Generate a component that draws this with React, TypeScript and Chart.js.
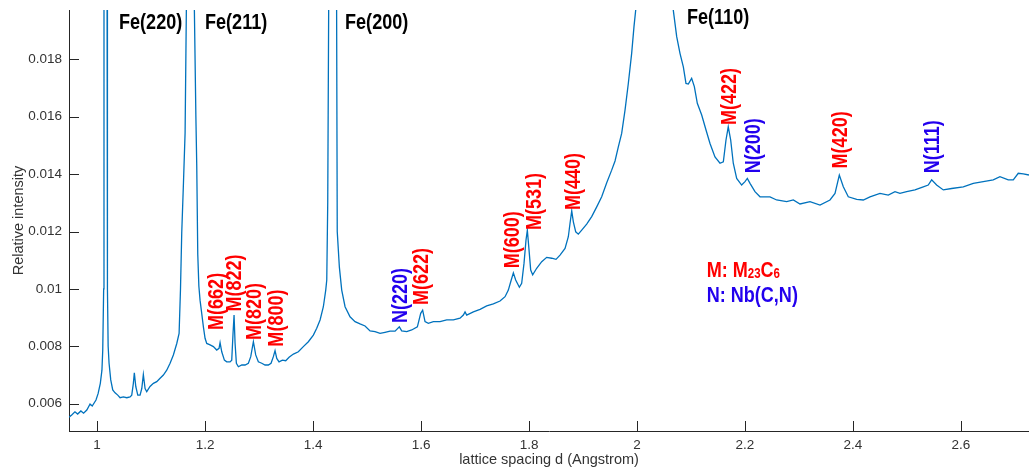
import { useEffect, useRef } from 'react';
import { Chart, registerables } from 'chart.js';

Chart.register(...registerables);

// Diffraction profile: lattice spacing d (Å) and relative intensity
const D_SPACING = [
  0.948, 0.953, 0.959, 0.964, 0.970, 0.975, 0.981, 0.987, 0.991, 0.998,
  1.002, 1.006, 1.009, 1.0105, 1.0122, 1.0128, 1.0157, 1.0185, 1.0192, 1.0205,
  1.0222, 1.0253, 1.029, 1.0333, 1.0383, 1.0426, 1.0487, 1.055, 1.0611,
  1.0642, 1.0672, 1.069, 1.0717, 1.0754, 1.0796, 1.0828, 1.0857, 1.0889, 1.092,
  1.0981, 1.1043, 1.1105, 1.1167, 1.1228, 1.129, 1.1352, 1.1413, 1.1476, 1.1519,
  1.1545, 1.1568, 1.1600, 1.1630, 1.1655, 1.1730, 1.1800, 1.1830, 1.1846, 1.1865,
  1.1885, 1.1907, 1.1938, 1.1969, 1.2, 1.2031, 1.2093, 1.2154, 1.2216, 1.2259,
  1.2278, 1.2309, 1.2358, 1.2401, 1.2463, 1.2494, 1.2518, 1.2537, 1.2556, 1.258,
  1.2617, 1.268, 1.2741, 1.2802, 1.2846, 1.2895, 1.2938, 1.2987, 1.305, 1.3111,
  1.3172, 1.3222, 1.3265, 1.3296, 1.3328, 1.337, 1.3432, 1.3494, 1.3556, 1.3636,
  1.3728, 1.382, 1.3913, 1.4006, 1.4068, 1.413, 1.4191, 1.4235, 1.4254, 1.4272,
  1.4290, 1.4360, 1.4436, 1.4448, 1.4487, 1.4531, 1.4593, 1.4685, 1.4778, 1.487,
  1.4963, 1.5056, 1.5148, 1.5241, 1.5333, 1.5426, 1.5519, 1.5598, 1.5642, 1.5735,
  1.5827, 1.5932, 1.5994, 1.603, 1.6074, 1.6135, 1.6228, 1.6352, 1.6476, 1.6599,
  1.6722, 1.6784, 1.6815, 1.6846, 1.6969, 1.7093, 1.7216, 1.7339, 1.7463, 1.7556,
  1.7617, 1.7661, 1.771, 1.7753, 1.7821, 1.7864, 1.7907, 1.7944, 1.7969, 1.8,
  1.8031, 1.8068, 1.8142, 1.8235, 1.8327, 1.842, 1.85, 1.8574, 1.8667, 1.8728,
  1.8759, 1.8791, 1.8821, 1.8865, 1.8913, 1.8976, 1.9068, 1.9161, 1.9254, 1.9346,
  1.9439, 1.9531, 1.9593, 1.9654, 1.9716, 1.9778, 1.9839, 1.9901, 1.9944, 1.9975,
  2.005, 2.015, 2.030, 2.045, 2.058, 2.0673, 2.0735, 2.0796, 2.0858, 2.0907,
  2.095, 2.1012, 2.1062, 2.1117, 2.1198, 2.1278, 2.1352, 2.1444, 2.1537, 2.1599,
  2.1648, 2.169, 2.1735, 2.1783, 2.1846, 2.1938, 2.2, 2.2043, 2.2093, 2.2185,
  2.2278, 2.2339, 2.2463, 2.2586, 2.2772, 2.2895, 2.3019, 2.3204, 2.3389, 2.3574,
  2.3667, 2.3747, 2.3821, 2.3913, 2.4069, 2.4191, 2.4315, 2.45, 2.4654, 2.4778,
  2.487, 2.4994, 2.5148, 2.5302, 2.5394, 2.5457, 2.5549, 2.5673, 2.5827, 2.6043,
  2.6228, 2.6413, 2.6598, 2.6722, 2.6876, 2.6969, 2.7061, 2.7154, 2.7259,
];

const INTENSITY = [
  0.00553, 0.00561, 0.00572, 0.00564, 0.00575, 0.00567, 0.00578, 0.00599, 0.00592, 0.00613,
  0.00636, 0.00671, 0.00717, 0.00787, 0.0100, 0.0200, 0.0500, 0.0200, 0.0100, 0.0080,
  0.00741, 0.00683, 0.00648, 0.00638, 0.0063, 0.00621, 0.00624, 0.00621, 0.00624,
  0.0063, 0.00671, 0.00708, 0.0066, 0.0063, 0.0063, 0.00653, 0.00702, 0.00653, 0.00642,
  0.0066, 0.00671, 0.00677, 0.00689, 0.007, 0.00717, 0.00741, 0.0077, 0.0081, 0.00845,
  0.0100, 0.01195, 0.0137, 0.01543, 0.0200, 0.0600, 0.0200, 0.0160, 0.0143, 0.0112,
  0.0101, 0.00961, 0.00915, 0.00868, 0.00828, 0.0081, 0.00805, 0.00799, 0.00787, 0.00793,
  0.00813, 0.00781, 0.00752, 0.00746, 0.00746, 0.00752, 0.00845, 0.00909, 0.0081, 0.00741,
  0.00729, 0.00735, 0.00735, 0.00741, 0.00764, 0.00816, 0.0077, 0.00746, 0.00741, 0.00735,
  0.00735, 0.00741, 0.00764, 0.00785, 0.00758, 0.00746, 0.00752, 0.0075, 0.00762, 0.00773,
  0.00781, 0.00799, 0.00816, 0.00839, 0.00863, 0.00892, 0.00938, 0.00996, 0.01031, 0.0130,
  0.0200, 0.0600, 0.0200, 0.0120, 0.01077, 0.00996, 0.00938, 0.00903, 0.00886, 0.00878,
  0.00871, 0.00854, 0.00851, 0.00845, 0.00849, 0.00853, 0.00853, 0.00868, 0.00854, 0.00851,
  0.00857, 0.00868, 0.00915, 0.00926, 0.00886, 0.0088, 0.00886, 0.00886, 0.00892, 0.00892,
  0.00898, 0.00909, 0.0092, 0.00909, 0.0092, 0.00929, 0.00941, 0.00948, 0.00958, 0.00973,
  0.00996, 0.01025, 0.01056, 0.01031, 0.01006, 0.0102, 0.01089, 0.0117, 0.01205, 0.01136,
  0.01066, 0.01049, 0.01072, 0.01095, 0.0111, 0.01107, 0.01103, 0.01118, 0.01141, 0.01182,
  0.01228, 0.01272, 0.01234, 0.01199, 0.01191, 0.01205, 0.01226, 0.01252, 0.01286, 0.01321,
  0.0137, 0.01414, 0.01446, 0.01495, 0.01542, 0.01623, 0.01716, 0.01821, 0.01914, 0.0197,
  0.0225, 0.028, 0.033, 0.028, 0.0225, 0.0197, 0.01879, 0.01821, 0.01774, 0.01716,
  0.01714, 0.01734, 0.01705, 0.01647, 0.01606, 0.01554, 0.01507, 0.0146, 0.01438, 0.01443,
  0.01519, 0.01565, 0.01519, 0.01438, 0.01385, 0.01362, 0.01374, 0.01385, 0.01368, 0.01339,
  0.01321, 0.01321, 0.01321, 0.0131, 0.01304, 0.0131, 0.01296, 0.01304, 0.01292, 0.0131,
  0.01333, 0.01397, 0.01356, 0.01321, 0.01312, 0.0131, 0.01321, 0.01333, 0.01327, 0.01339,
  0.01333, 0.01339, 0.01345, 0.01356, 0.01362, 0.0138, 0.01362, 0.01345, 0.0135, 0.01356,
  0.01368, 0.01374, 0.0138, 0.01391, 0.0138, 0.0138, 0.01403, 0.01401, 0.01397,
];

const X_MIN = 0.948;
const X_MAX = 2.726;
const Y_MIN = 0.00505;
const Y_MAX = 0.01972;

const X_TICKS = [1, 1.2, 1.4, 1.6, 1.8, 2, 2.2, 2.4, 2.6];
const X_TICK_LABELS = ['1', '1.2', '1.4', '1.6', '1.8', '2', '2.2', '2.4', '2.6'];
const Y_TICKS = [0.006, 0.008, 0.01, 0.012, 0.014, 0.016, 0.018];
const Y_TICK_LABELS = ['0.006', '0.008', '0.01', '0.012', '0.014', '0.016', '0.018'];

// Ferrite reflections (text placed at d, intensity of baseline)
const FE_LABELS = ['Fe(220)', 'Fe(211)', 'Fe(200)', 'Fe(110)'];
const FE_LABEL_D = [1.0407, 1.2, 1.4593, 2.0926];
const FE_LABEL_I = [0.01906, 0.01906, 0.01906, 0.01923];

// Precipitate reflections: M = M23C6, N = Nb(C,N)
const PHASE_LABELS = [
  'M(662)', 'M(822)', 'M(820)', 'M(800)', 'N(220)', 'M(622)', 'M(600)',
  'M(531)', 'M(440)', 'M(422)', 'N(200)', 'M(420)', 'N(111)',
];
const PHASE_KIND = ['M', 'M', 'M', 'M', 'N', 'M', 'M', 'M', 'M', 'M', 'N', 'M', 'N'];
const PHASE_LABEL_D = [
  1.2204, 1.2537, 1.2907, 1.3315, 1.5611, 1.6, 1.7685,
  1.8093, 1.8815, 2.1704, 2.2148, 2.375, 2.5454,
];
const PHASE_LABEL_I = [
  0.00857, 0.00921, 0.00822, 0.00799, 0.00881, 0.00944, 0.01072,
  0.01205, 0.01275, 0.01571, 0.01403, 0.0142, 0.01403,
];

const KEY_D = 2.1291;
const KEY_I = [0.01041, 0.00953];

const LINE_COLOR = '#0072BD';
const RED = '#ff0000';
const BLUE = '#2200ee';
const AXIS_COLOR = '#262626';
const TEXT_COLOR = '#333333';
const SANS = '"Liberation Sans", Arial, Helvetica, sans-serif';
const LABEL_FONT = `bold 22px ${SANS}`;
const SUB_FONT = `bold 14px ${SANS}`;
// horizontal squeeze giving a condensed bold face
const CONDENSE = 0.82;

const inwardTicks = {
  id: 'inwardTicks',
  afterDraw(chart: any) {
    const { ctx, chartArea, scales } = chart;
    const len = 10;
    ctx.save();
    ctx.strokeStyle = AXIS_COLOR;
    ctx.lineWidth = 1;
    ctx.beginPath();
    for (const v of X_TICKS) {
      const x = Math.round(scales.x.getPixelForValue(v)) + 0.5;
      ctx.moveTo(x, chartArea.bottom);
      ctx.lineTo(x, chartArea.bottom - len);
    }
    for (const v of Y_TICKS) {
      const y = Math.round(scales.y.getPixelForValue(v)) + 0.5;
      ctx.moveTo(chartArea.left, y);
      ctx.lineTo(chartArea.left + len, y);
    }
    ctx.stroke();
    ctx.restore();
  },
};

function condensedText(ctx: any, text: string, x: number, y: number, angle = 0) {
  ctx.save();
  ctx.translate(x, y);
  if (angle) ctx.rotate(angle);
  ctx.scale(CONDENSE, 1);
  ctx.fillText(text, 0, 0);
  ctx.restore();
}

const peakLabels = {
  id: 'peakLabels',
  afterDatasetsDraw(chart: any) {
    const { ctx, scales } = chart;
    const xs = scales.x;
    const ys = scales.y;
    ctx.save();
    ctx.font = LABEL_FONT;
    ctx.fillStyle = '#000000';
    ctx.textAlign = 'left';
    ctx.textBaseline = 'alphabetic';
    FE_LABELS.forEach((t, i) => {
      condensedText(ctx, t, xs.getPixelForValue(FE_LABEL_D[i]), ys.getPixelForValue(FE_LABEL_I[i]));
    });

    ctx.textBaseline = 'middle';
    PHASE_LABELS.forEach((t, i) => {
      ctx.fillStyle = PHASE_KIND[i] === 'M' ? RED : BLUE;
      condensedText(
        ctx,
        t,
        xs.getPixelForValue(PHASE_LABEL_D[i]) + 1,
        ys.getPixelForValue(PHASE_LABEL_I[i]),
        -Math.PI / 2,
      );
    });

    // phase key
    ctx.textBaseline = 'alphabetic';
    const kx = xs.getPixelForValue(KEY_D);
    const k1 = ys.getPixelForValue(KEY_I[0]);
    const k2 = ys.getPixelForValue(KEY_I[1]);
    ctx.fillStyle = RED;
    let cx = kx;
    const parts: [string, boolean][] = [['M: M', false], ['23', true], ['C', false], ['6', true]];
    for (const [s, sub] of parts) {
      ctx.font = sub ? SUB_FONT : LABEL_FONT;
      condensedText(ctx, s, cx, sub ? k1 + 1 : k1);
      cx += ctx.measureText(s).width * CONDENSE;
    }
    ctx.font = LABEL_FONT;
    ctx.fillStyle = BLUE;
    condensedText(ctx, 'N: Nb(C,N)', kx, k2);
    ctx.restore();
  },
};

export default function App() {
  const canvasRef = useRef<HTMLCanvasElement | null>(null);

  useEffect(() => {
    const canvas = canvasRef.current;
    if (!canvas) return;
    const points = D_SPACING.map((d, i) => ({ x: d, y: INTENSITY[i] }));
    const chart = new Chart(canvas, {
      type: 'line',
      data: {
        datasets: [
          {
            data: points,
            borderColor: LINE_COLOR,
            borderWidth: 1.3,
            pointRadius: 0,
            tension: 0,
            fill: false,
          },
        ],
      },
      options: {
        animation: false,
        responsive: false,
        devicePixelRatio: 1,
        layout: { padding: { top: 10, left: 0, right: 0, bottom: 0 } },
        plugins: {
          legend: { display: false },
          tooltip: { enabled: false },
        },
        scales: {
          x: {
            type: 'linear',
            min: X_MIN,
            max: X_MAX,
            grid: { display: false, drawTicks: false },
            border: { display: true, color: AXIS_COLOR, width: 1 },
            ticks: {
              autoSkip: false,
              maxRotation: 0,
              padding: 6,
              color: TEXT_COLOR,
              font: { family: SANS, size: 13.5 },
              callback: (v: any) => X_TICK_LABELS[X_TICKS.indexOf(Number(v))] ?? '',
            },
            title: {
              display: true,
              text: 'lattice spacing d (Angstrom)',
              color: TEXT_COLOR,
              font: { family: SANS, size: 14.5 },
              padding: { top: 0, bottom: 6 },
            },
            afterBuildTicks: (s: any) => {
              s.ticks = X_TICKS.map((v) => ({ value: v }));
            },
            afterFit: (s: any) => {
              s.height = 44;
              s.paddingLeft = 0;
              s.paddingRight = 0;
            },
          },
          y: {
            type: 'linear',
            min: Y_MIN,
            max: Y_MAX,
            grid: { display: false, drawTicks: false },
            border: { display: true, color: AXIS_COLOR, width: 1 },
            ticks: {
              autoSkip: false,
              padding: 7,
              color: TEXT_COLOR,
              font: { family: SANS, size: 13.5 },
              callback: (v: any) => Y_TICK_LABELS[Y_TICKS.indexOf(Number(v))] ?? '',
            },
            title: {
              display: true,
              text: 'Relative intensity',
              color: TEXT_COLOR,
              font: { family: SANS, size: 14.5 },
              padding: { top: 10, bottom: 0 },
            },
            afterBuildTicks: (s: any) => {
              s.ticks = Y_TICKS.map((v) => ({ value: v }));
            },
            afterFit: (s: any) => {
              s.width = 69;
              s.paddingTop = 0;
              s.paddingBottom = 0;
            },
          },
        },
      },
      plugins: [inwardTicks, peakLabels],
    });
    return () => chart.destroy();
  }, []);

  return (
    <div style={{ position: 'fixed', left: 0, top: 0, width: 1029, height: 475, background: '#fff' }}>
      <canvas ref={canvasRef} width={1029} height={475} style={{ display: 'block' }} />
    </div>
  );
}
